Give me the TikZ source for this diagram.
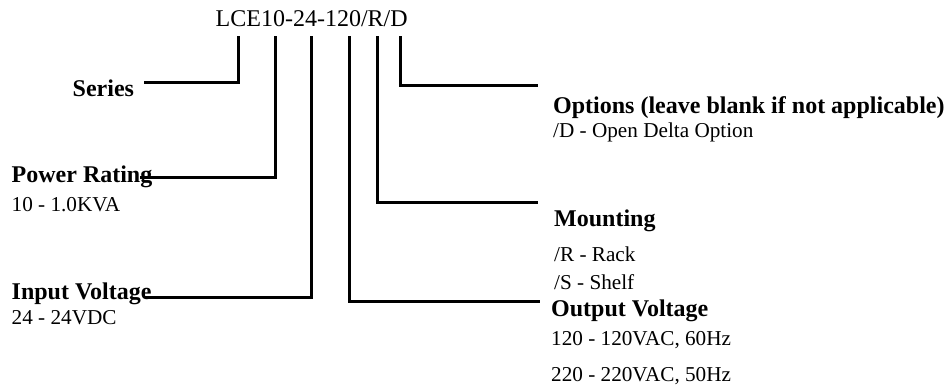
\documentclass[tikz,border=0pt]{standalone}
\usepackage{fontspec}
\setmainfont{Liberation Serif}
\begin{document}
\begin{tikzpicture}[x=1pt,y=-1pt,
  conn/.style={line width=3pt,line join=miter},
  lbl/.style={anchor=base west,inner sep=0pt,font=\fontsize{24}{27}\selectfont\bfseries},
  txt/.style={anchor=base west,inner sep=0pt,font=\fontsize{21.2}{24}\selectfont},
  ttl/.style={anchor=base west,inner sep=0pt,font=\fontsize{24}{28}\selectfont}]
\useasboundingbox (0,0) rectangle (952,391);
\node[ttl] (title) at (215.5,26.5) {LCE10-24-120/R/D};
\node[lbl] (series) at (72.5,96.5) {Series};
\node[lbl] (power) at (11.5,182) {Power Rating};
\node[txt] (powerv) at (11.5,211.5) {10 - 1.0KVA};
\node[lbl] (input) at (11.5,299) {Input Voltage};
\node[txt] (inputv) at (11.5,324) {24 - 24VDC};
\node[lbl] (options) at (553,113) {Options (leave blank if not applicable)};
\node[txt] (optionsv) at (553,137.5) {/D - Open Delta Option};
\node[lbl] (mount) at (554,226.5) {Mounting};
\node[txt] (mountr) at (554,261) {/R - Rack};
\node[txt] (mounts) at (554,289) {/S - Shelf};
\node[lbl] (output) at (551,316.5) {Output Voltage};
\node[txt] (outputa) at (551,345) {120 - 120VAC, 60Hz};
\node[txt] (outputb) at (551,381.5) {220 - 220VAC, 50Hz};
\coordinate (t1) at (238,36);
\coordinate (t2) at (275.5,36);
\coordinate (t3) at (311.5,36);
\coordinate (t4) at (349,36);
\coordinate (t5) at (377,36);
\coordinate (t6) at (400.5,36);
\coordinate (e1) at (144,82);
\coordinate (e2) at (140,177);
\coordinate (e3) at (145,297);
\coordinate (e4) at (540,301.5);
\coordinate (e5) at (538,202);
\coordinate (e6) at (538,85);
\draw[conn] (t1) |- (e1);
\draw[conn] (t2) |- (e2);
\draw[conn] (t3) |- (e3);
\draw[conn] (t4) |- (e4);
\draw[conn] (t5) |- (e5);
\draw[conn] (t6) |- (e6);
\end{tikzpicture}
\end{document}
